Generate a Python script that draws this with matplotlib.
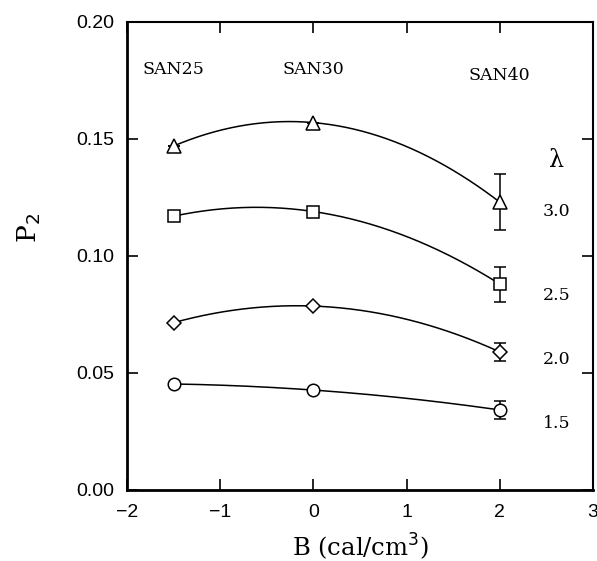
import matplotlib.pyplot as plt
import numpy as np

# data
b_values = [-1.5, 0.0, 2.0]
samples = ['SAN25', 'SAN30', 'SAN40']
p2_l30 = [0.147, 0.157, 0.123]
p2_l25 = [0.117, 0.119, 0.088]
p2_l20 = [0.0715, 0.0786, 0.059]
p2_l15 = [0.0453, 0.0427, 0.0342]
err_l30 = [0, 0, 0.012]
err_l25 = [0, 0, 0.0075]
err_l20 = [0, 0, 0.0038]
err_l15 = [0, 0, 0.0040]
lambdas = ['3.0', '2.5', '2.0', '1.5']
lambda_label_y = [0.119, 0.083, 0.0556, 0.0286]

series = [
    (p2_l30, err_l30, '^'),
    (p2_l25, err_l25, 's'),
    (p2_l20, err_l20, 'D'),
    (p2_l15, err_l15, 'o'),
]

serif = 'DejaVu Serif'
sans = 'Liberation Sans'

fig = plt.figure(figsize=(5.97, 5.61), dpi=100)
ax = fig.add_axes([0.2127, 0.1266, 0.7806, 0.8342])

xs = np.linspace(b_values[0], b_values[-1], 200)
for vals, err, mk in series:
    # smooth quadratic through the three points
    coef = np.polyfit(b_values, vals, 2)
    ax.plot(xs, np.polyval(coef, xs), color='black', linewidth=1.1)
    ms = {'^': 9.5, 's': 8, 'D': 7, 'o': 9}[mk]
    ax.errorbar(b_values, vals, yerr=err, fmt=mk, color='black', mfc='white',
                mec='black', ms=ms, mew=1.1, elinewidth=1.1, capsize=4.5,
                capthick=1.1, zorder=3)

for x, name in zip(b_values, samples):
    y = 0.177 if name == 'SAN40' else 0.1795
    ax.text(x, y, name, ha='center', va='center', fontsize=12.5, family=serif)

ax.text(2.61, 0.141, '\u03bb', ha='center', va='center', fontsize=17, family=serif)
for lab, y in zip(lambdas, lambda_label_y):
    ax.text(2.61, y, lab, ha='center', va='center', fontsize=12.5, family=serif)

ax.set_xlim(-2, 3)
ax.set_ylim(0, 0.20)
ax.set_xticks([-2, -1, 0, 1, 2, 3])
ax.set_yticks([0, 0.05, 0.10, 0.15, 0.20])
ax.set_yticklabels(['0.00', '0.05', '0.10', '0.15', '0.20'])
ax.set_xticklabels(['\u22122', '\u22121', '0', '1', '2', '3'])
ax.tick_params(direction='in', length=8, width=1.2, top=True, right=True,
               labelsize=14)
ax.tick_params(axis='x', pad=10)
ax.tick_params(axis='y', pad=9)
for lab in ax.get_xticklabels() + ax.get_yticklabels():
    lab.set_family(sans)

for side in ['left', 'bottom']:
    ax.spines[side].set_linewidth(2.0)
for side in ['top', 'right']:
    ax.spines[side].set_linewidth(1.5)

ax.set_ylabel(r'P$_2$', fontsize=19, family=serif)
ax.yaxis.set_label_coords(-0.18, 0.56)
ax.set_xlabel(r'B (cal/cm$^3$)', fontsize=17.5, family=serif)
ax.xaxis.set_label_coords(0.5, -0.088)

fig.savefig('out.png', dpi=100)
